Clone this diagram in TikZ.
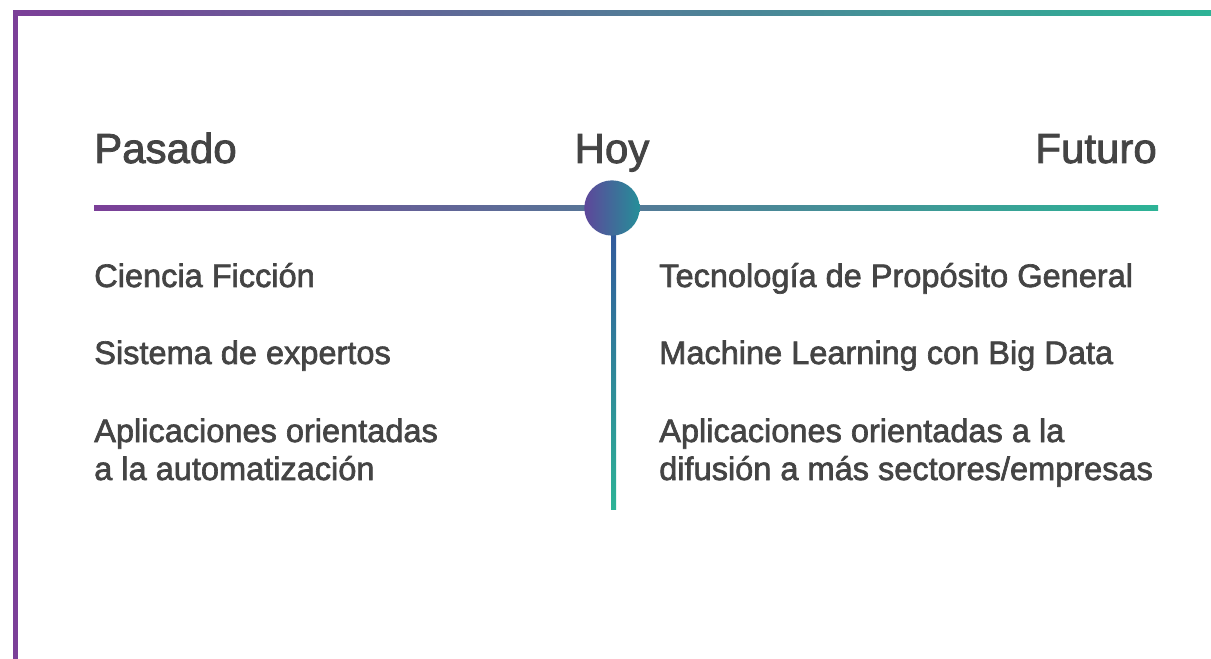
\documentclass[tikz,border=0pt]{standalone}
\usepackage{fontspec}
\setmainfont{Liberation Sans}[FakeBold=2]
\usetikzlibrary{calc}

\definecolor{purp}{RGB}{123,63,152}
\definecolor{blu}{RGB}{25,88,158}
\definecolor{teal}{RGB}{45,179,150}
\definecolor{txt}{RGB}{68,68,68}

\tikzset{
  head/.style={font=\fontsize{31.5}{36}\selectfont,text=txt,inner sep=0pt},
  item/.style={font=\fontsize{24.4}{28.5}\selectfont,text=txt,inner sep=0pt,
    anchor=base west,align=left},
}

\begin{document}
\begin{tikzpicture}[x=0.75pt,y=-0.75pt]
\useasboundingbox (0,0) rectangle (1211,659);
% frame
\fill[purp] (13,11) rectangle (18,659);
\shade[left color=purp,middle color=blu,right color=teal] (13,11) rectangle (1211,16);
% time line
\coordinate (tlL) at (94,208.5);
\coordinate (tlR) at (1158,208.5);
\coordinate (hoyc) at (612,208);
\coordinate (tlEnd) at (613.5,509);
\shade[left color=purp,middle color=blu,right color=teal]
  ($(tlL)+(0,-2.5)$) rectangle ($(tlR)+(0,2.5)$);
\shade[top color=blu!75!purp,bottom color=teal]
  ($(hoyc)+(-1,0)$) rectangle ($(tlEnd)+(2.5,0)$);
\node[circle,minimum size=41.5pt,inner sep=0pt,
  left color=purp!70!blu,middle color=blu,right color=teal!60!blu] (hoydot) at (hoyc) {};
% headings
\node[head,anchor=base west] (pasado) at (94,163) {Pasado};
\node[head,anchor=base] (hoy) at (612,163) {Hoy};
\node[head,anchor=base east] (futuro) at (1157,163) {Futuro};
% past
\node[item] (p1) at (94,287) {Ciencia Ficción};
\node[item] (p2) at (94,364) {Sistema de expertos};
\node[item] (p3) at (94,480) {Aplicaciones orientadas\\a la automatización};
% future
\node[item] (f1) at (659,287) {Tecnología de Propósito General};
\node[item] (f2) at (659,364) {Machine Learning con Big Data};
\node[item] (f3) at (659,480) {Aplicaciones orientadas a la\\difusión a más sectores/empresas};
\end{tikzpicture}
\end{document}
